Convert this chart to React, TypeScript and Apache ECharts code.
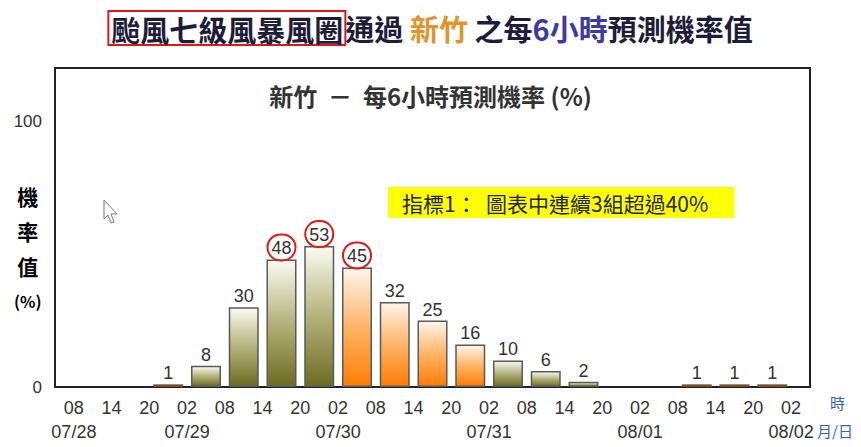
import React, { useEffect, useRef } from 'react';
import * as echarts from 'echarts';

// Time-point tick labels along the bottom (every 6 hours)
const hourLabels = ['08', '14', '20', '02', '08', '14', '20', '02', '08', '14', '20', '02', '08', '14', '20', '02', '08', '14', '20', '02'];
const dateLabels = ['07/28', '', '', '07/29', '', '', '', '07/30', '', '', '', '07/31', '', '', '', '08/01', '', '', '', '08/02'];
// Probability (%) for each 6-hour interval between consecutive time points
const intervalProbability = [0, 0, 1, 8, 30, 48, 53, 45, 32, 25, 16, 10, 6, 2, 0, 0, 1, 1, 1];
// Intervals drawn in orange
const orangeIntervals = [7, 8, 9, 10];
const yTickLabels = [0, 100];
const highlightThreshold = 40;

const CJK = '"Noto Sans CJK TC", "Noto Sans", sans-serif';
const NUM = '"Liberation Sans Narrow", "Arial Narrow", "Liberation Sans", Arial, sans-serif';

const oliveGrad = () =>
  new echarts.graphic.LinearGradient(0, 0, 0, 1, [
    { offset: 0, color: '#fbfbf3' },
    { offset: 0.5, color: '#b3b27a' },
    { offset: 1, color: '#6c6b22' },
  ]);
const orangeGrad = () =>
  new echarts.graphic.LinearGradient(0, 0, 0, 1, [
    { offset: 0, color: '#fff6ec' },
    { offset: 0.5, color: '#ffb466' },
    { offset: 1, color: '#ff7c05' },
  ]);

export default function App() {
  const ref = useRef<HTMLDivElement>(null);
  useEffect(() => {
    if (!ref.current) return;
    const chart = echarts.init(ref.current, null, { renderer: 'svg' });

    const slots = ['start', ...intervalProbability.map((_, i) => `${hourLabels[i]}-${hourLabels[i + 1]}`), 'end'];
    const barValues: (number | null)[] = [null, ...intervalProbability, null];

    const barData = barValues.map((v, k) => {
      if (v === null) return '-';
      const i = k - 1;
      const isOrange = orangeIntervals.includes(i);
      const isSmall = v <= 1;
      const highlighted = v > highlightThreshold;
      const item: any = {
        value: v,
        itemStyle: {
          color: isSmall ? '#8d5a2e' : isOrange ? orangeGrad() : oliveGrad(),
          borderColor: v === 0 ? 'transparent' : isSmall ? '#7a4e2a' : '#5a5a5a',
          borderWidth: v === 0 ? 0 : 1.5,
        },
        label: { show: v > 0 },
      };
      if (highlighted) {
        item.label = {
          show: true,
          distance: -1,
          padding: [5, 4, 3, 4],
          borderColor: '#e01818',
          borderWidth: 2,
          borderRadius: 16,
        };
      }
      return item;
    });

    const option: any = {
      animation: false,
      backgroundColor: '#ffffff',
      title: [
        {
          left: 'center',
          top: 11,
          padding: 0,
          text: '{box|颱風七級風暴風圈}{d|通過 }{o|新竹}{d| 之每}{b|6小時}{d|預測機率值}',
          textStyle: {
            fontFamily: CJK,
            fontSize: 29,
            fontWeight: 'bold',
            rich: {
              box: {
                fontFamily: CJK,
                fontSize: 29,
                fontWeight: 'bold',
                color: '#1d1d3a',
                borderColor: '#e01818',
                borderWidth: 2,
                padding: [3, 2, 2, 3],
              },
              d: { fontFamily: CJK, fontSize: 29, fontWeight: 'bold', color: '#1d1d3a' },
              o: { fontFamily: CJK, fontSize: 29, fontWeight: 'bold', color: '#e0952c' },
              b: { fontFamily: CJK, fontSize: 29, fontWeight: 'bold', color: '#3b3aa6' },
            },
          },
        },
        {
          left: 'center',
          top: 83,
          padding: 0,
          text: '新竹  －  每6小時預測機率 (%)',
          textStyle: { fontFamily: CJK, fontSize: 24, fontWeight: 'bold', color: '#333333' },
        },
        {
          left: 388,
          top: 187,
          padding: [5, 26, 5, 14],
          backgroundColor: '#ffff00',
          text: '指標1：  圖表中連續3組超過40%',
          textStyle: { fontFamily: CJK, fontSize: 21, fontWeight: 'normal', color: '#222222' },
        },
      ],
      grid: {
        left: 55,
        right: 51,
        top: 68,
        bottom: 60,
        show: true,
        borderColor: '#222222',
        borderWidth: 2,
        backgroundColor: '#ffffff',
      },
      xAxis: [
        {
          type: 'category',
          data: slots,
          boundaryGap: false,
          show: false,
        },
        {
          type: 'category',
          data: hourLabels,
          position: 'bottom',
          boundaryGap: true,
          axisLine: { show: false },
          axisTick: { show: false },
          axisLabel: {
            interval: 0,
            margin: 10,
            formatter: (val: string, idx: number) =>
              dateLabels[idx] ? `{h|${val}}\n{d|${dateLabels[idx]}}` : `{h|${val}}`,
            rich: {
              h: { fontFamily: NUM, fontSize: 18, color: '#333333', lineHeight: 22 },
              d: { fontFamily: NUM, fontSize: 18, color: '#333333', lineHeight: 26 },
            },
          },
        },
      ],
      yAxis: {
        type: 'value',
        min: 0,
        max: 120,
        interval: 20,
        splitLine: { show: false },
        axisLine: { show: false },
        axisTick: { show: false },
        axisLabel: {
          margin: 13,
          fontFamily: NUM,
          fontSize: 17,
          color: '#333333',
          formatter: (v: number) => (yTickLabels.includes(v) ? String(v) : ''),
        },
      },
      series: [
        {
          type: 'bar',
          xAxisIndex: 0,
          data: barData,
          barWidth: 30,
          label: {
            show: true,
            position: 'top',
            distance: 2,
            fontFamily: NUM,
            fontSize: 18,
            color: '#333333',
          },
        },
      ],
      graphic: [
        {
          type: 'text',
          left: 14,
          top: 185,
          style: {
            text: '{c|機}\n{c|率}\n{c|值}\n{p|(%)}',
            align: 'center',
            rich: {
              c: { fontFamily: CJK, fontSize: 21, fontWeight: 'bold', color: '#333333', lineHeight: 35, align: 'center' },
              p: { fontFamily: CJK, fontSize: 16, fontWeight: 'bold', color: '#333333', lineHeight: 35, align: 'center' },
            },
          },
        },
        {
          type: 'text',
          left: 830,
          top: 395,
          style: { text: '時', fontFamily: CJK, fontSize: 15, fill: '#3a5fb8' },
        },
        {
          type: 'text',
          left: 817,
          top: 423,
          style: { text: '月/日', fontFamily: CJK, fontSize: 15, fill: '#3a5fb8' },
        },
        {
          type: 'polygon',
          shape: {
            points: [
              [104, 200],
              [104, 219],
              [108, 215],
              [111, 223],
              [114, 222],
              [111, 214],
              [117, 214],
            ],
          },
          style: { fill: '#ffffff', stroke: '#777777', lineWidth: 1 },
        },
      ],
    };

    chart.setOption(option);
    return () => chart.dispose();
  }, []);

  return (
    <div
      ref={ref}
      style={{ position: 'fixed', left: 0, top: 0, width: 861, height: 447 }}
    />
  );
}
